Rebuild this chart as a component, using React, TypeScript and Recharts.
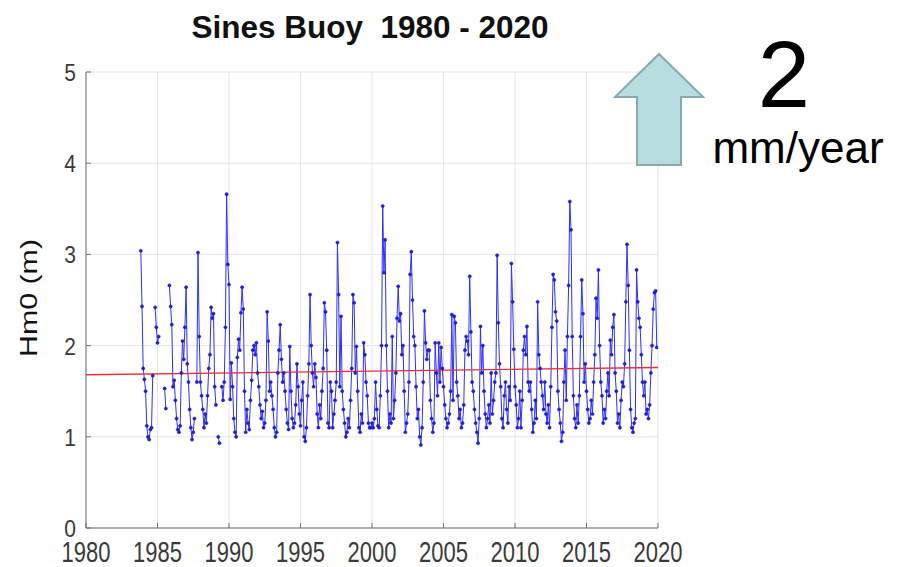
import { LineChart, Line, XAxis, YAxis, CartesianGrid } from "recharts";

// monthly Hm0 (m), first value = Nov 1983, null = no record
const firstYear = 1983;
const firstMonth = 10;
const hm0 = [
  3.04, 2.43,
  1.75, 1.63, 1.5, 1.12, 1.0, 0.97, 1.08, 1.1, 1.67, null, 2.42, 2.2, // 1984
  2.03, 2.1, null, null, null, null, 1.53, 1.31, null, null, 2.66, 2.43, // 1985
  2.23, 1.55, 1.62, 1.4, 1.2, 1.08, 1.05, 1.12, 1.7, 2.05, 1.85, 2.2, // 1986
  2.64, 1.8, 1.6, 1.3, 1.1, 0.97, 1.05, 1.2, null, 1.6, 3.02, 2.1, // 1987
  1.6, 1.45, 1.3, 1.1, 1.25, 1.15, 1.45, 1.75, 1.9, 2.42, 2.3, 2.35, // 1988
  1.55, 1.35, null, 1.0, 0.93, null, 1.55, 1.4, 1.6, 2.2, 3.66, 2.89, // 1989
  2.67, 1.41, 1.81, 1.55, 1.2, 1.05, 1.0, 1.87, 2.07, 1.95, 2.36, 2.64, // 1990
  2.4, 1.5, 1.05, 1.3, 1.15, 1.08, 1.4, 1.62, 1.95, 2.0, 1.9, 2.03, // 1991
  1.7, 1.55, 1.35, 1.2, 1.28, 1.1, 1.15, 1.4, 2.37, 2.05, 1.5, 1.6, // 1992
  1.45, 1.3, 1.1, 1.0, 1.05, 1.7, 1.95, 2.23, 1.85, 1.6, 1.7, 1.5, // 1993
  1.3, 1.15, 1.08, 1.99, 1.5, 1.2, 1.1, 1.15, 1.35, 1.8, 1.55, 1.25, // 1994
  1.12, 1.4, 1.6, 1.0, 0.95, 1.1, 1.45, 1.8, 2.56, 2.0, 1.7, 1.55, // 1995
  1.8, 1.65, 1.25, 1.1, 1.35, 1.2, 1.5, 1.75, 2.47, 2.37, 1.95, 1.15, // 1996
  1.1, 1.6, 1.5, 1.1, 1.25, 1.4, 1.6, 3.13, 2.56, 1.55, 2.32, 1.5, // 1997
  1.3, 1.15, 1.0, 1.05, 1.2, 1.1, 1.4, 1.75, 2.56, 2.47, 1.7, 1.99, // 1998
  1.5, 1.1, 1.05, 1.25, 1.15, 2.03, 1.9, 1.6, 1.45, 1.15, 1.1, 1.1, // 1999
  1.15, 1.1, 1.2, 1.6, 1.3, 1.12, 1.1, 1.45, 2.0, 3.53, 2.8, 3.16, // 2000
  2.0, 1.5, 1.1, 1.25, 1.15, 2.1, 1.2, 1.4, 1.7, 2.3, 2.65, 2.27, // 2001
  2.35, 1.9, 2.0, 1.5, 1.05, 1.15, 1.25, 1.6, 2.78, 3.03, 2.5, 2.1, // 2002
  2.0, 1.55, 1.2, 1.3, 1.0, 0.91, 1.1, 1.6, 2.38, 2.03, 1.85, 1.95, // 2003
  1.95, 1.4, 1.2, 1.05, 1.15, 2.03, 1.7, 1.45, 2.03, 1.6, 1.98, 1.75, // 2004
  1.55, 1.35, 1.2, 1.1, 1.15, 1.25, 1.5, 2.34, 1.4, 2.32, 2.25, 1.6, // 2005
  1.45, 1.2, 1.3, 1.1, 1.15, 1.35, 1.95, 2.1, 2.05, 1.9, 2.76, 2.15, // 2006
  1.6, 1.5, 1.3, 1.15, 1.05, 0.93, 1.2, 2.21, 1.7, 2.0, 1.5, 1.25, // 2007
  1.1, 1.2, 1.35, 1.15, 1.7, 1.25, 1.4, 1.6, 1.7, 2.99, 2.25, 1.8, // 2008
  1.55, 1.2, 1.1, 1.45, 1.6, 1.3, 1.15, 1.55, 1.4, 2.9, 2.48, 1.96, // 2009
  1.55, 1.35, 1.1, 1.2, 1.5, 1.1, 1.4, 1.95, 2.1, 1.9, 2.21, 1.6, // 2010
  1.5, 1.6, 1.3, 1.05, 1.15, 1.4, 1.2, 2.48, 1.9, 1.75, 1.6, 1.45, // 2011
  1.3, 1.6, 1.25, 1.15, 1.35, 1.1, 1.55, 2.2, 2.78, 2.72, 2.37, 2.27, // 2012
  1.5, 1.3, 1.15, 0.95, 1.05, 1.6, 1.95, 1.4, 2.1, 2.66, 3.58, 3.27, // 2013
  2.1, 1.45, 1.2, 1.1, 1.35, 1.15, 1.45, 2.1, 2.72, 2.35, 1.6, 1.8, // 2014
  1.5, 1.3, 1.15, 1.2, 1.4, 1.25, 1.6, 1.9, 2.52, 2.3, 2.83, 2.0, // 2015
  1.6, 1.45, 1.15, 1.3, 1.2, 1.5, 1.7, 1.45, 2.06, 1.9, 2.2, 2.34, // 2016
  1.7, 1.5, 1.15, 1.25, 1.1, 1.4, 1.6, 1.55, 1.8, 2.48, 3.11, 2.66, // 2017
  1.95, 1.3, 1.1, 1.05, 1.15, 1.2, 2.83, 2.48, 2.3, 2.2, 1.9, 1.6, // 2018
  1.45, 1.6, 1.25, 1.3, 1.2, 1.35, 1.7, 2.0, 2.4, 2.58, 2.6, 1.98, // 2019
];

// linear trend, 2 mm/year
const trendYears = [1980, 2020];
const trendHm0 = [1.68, 1.76];

const xTicks = [1980, 1985, 1990, 1995, 2000, 2005, 2010, 2015, 2020];
const yTicks = [0, 1, 2, 3, 4, 5];

const series = hm0.map((v, i) => ({ t: firstYear + (firstMonth + i) / 12, hm0: v }));
const trend = trendYears.map((t, i) => ({ t, trend: trendHm0[i] }));

const FONT = "'Liberation Sans', Arial, Helvetica, sans-serif";
const AXIS = "#6f6f6f";
const LABEL = "#3a3a3a";

// bottom tick: inward mark + vertically stretched label (source image is stretched)
const BottomTick = ({ x, y, payload }: any) => (
  <g transform={`translate(${x},${y})`}>
    <line x1={0} x2={0} y1={0} y2={-5} stroke={AXIS} />
    <text transform="translate(0,34) scale(1,1.3)" textAnchor="middle" fontSize={22} fill={LABEL} fontFamily={FONT}>
      {payload.value}
    </text>
  </g>
);

const LeftTick = ({ x, y, payload }: any) => (
  <g transform={`translate(${x},${y})`}>
    <line x1={0} x2={5} y1={0} y2={0} stroke={AXIS} />
    <text transform="translate(-10,9) scale(1,1.15)" textAnchor="end" fontSize={21} fill={LABEL} fontFamily={FONT}>
      {payload.value}
    </text>
  </g>
);

const TopTick = ({ x, y }: any) => <line x1={x} x2={x} y1={y} y2={y + 5} stroke={AXIS} />;
const RightTick = ({ x, y }: any) => <line x1={x} x2={x - 5} y1={y} y2={y} stroke={AXIS} />;

const YLabel = ({ viewBox }: any) => (
  <text
    transform={`translate(${viewBox.x - 9},${viewBox.y + viewBox.height / 2 - 2}) rotate(-90) scale(1.32,1)`}
    textAnchor="middle"
    fontSize={23}
    fill="#111"
    fontFamily={FONT}
  >
    Hm0 (m)
  </text>
);

export default function App() {
  return (
    <div style={{ position: "absolute", left: 0, top: 0, width: 909, height: 567, background: "#fff", fontFamily: FONT }}>
      <LineChart width={909} height={567} data={series} margin={{ top: 72, right: 251, bottom: 9, left: 46 }}>
        <CartesianGrid stroke="#e4e4e4" strokeWidth={1} />
        <XAxis
          dataKey="t"
          type="number"
          domain={[1980, 2020]}
          ticks={xTicks}
          allowDataOverflow
          height={30}
          tickSize={0}
          tickMargin={0}
          tickLine={false}
          axisLine={{ stroke: AXIS }}
          tick={<BottomTick />}
          interval={0}
        />
        <XAxis
          xAxisId="top"
          orientation="top"
          dataKey="t"
          type="number"
          domain={[1980, 2020]}
          ticks={xTicks}
          height={0}
          tickSize={0}
          tickMargin={0}
          tickLine={false}
          axisLine={{ stroke: AXIS }}
          tick={<TopTick />}
          interval={0}
        />
        <YAxis
          type="number"
          domain={[0, 5]}
          ticks={yTicks}
          width={40}
          tickSize={0}
          tickMargin={0}
          tickLine={false}
          axisLine={{ stroke: AXIS }}
          tick={<LeftTick />}
          interval={0}
          label={<YLabel />}
        />
        <YAxis
          yAxisId="right"
          orientation="right"
          type="number"
          domain={[0, 5]}
          ticks={yTicks}
          width={0}
          tickSize={0}
          tickMargin={0}
          tickLine={false}
          axisLine={{ stroke: AXIS }}
          tick={<RightTick />}
          interval={0}
        />
        <Line
          dataKey="hm0"
          stroke="#2f2fff"
          strokeWidth={1}
          dot={{ r: 1.6, fill: "#1f1fd0", stroke: "#1f1fd0", strokeWidth: 0.5 }}
          connectNulls={false}
          isAnimationActive={false}
        />
        <Line
          data={trend}
          xAxisId="top"
          yAxisId="right"
          dataKey="trend"
          stroke="#ee2b3b"
          strokeWidth={1.4}
          dot={false}
          isAnimationActive={false}
        />
      </LineChart>
      <svg width={909} height={567} style={{ position: "absolute", left: 0, top: 0, pointerEvents: "none" }}>
        <text
          x={370}
          y={38}
          textAnchor="middle"
          fontSize={31.5}
          fontWeight="bold"
          fill="#111"
          fontFamily={FONT}
          style={{ whiteSpace: "pre" }}
        >
          {"Sines Buoy  1980 - 2020"}
        </text>
        <polygon
          points="659,54 703,97 681,97 681,165 637,165 637,97 615,97"
          fill="#b8dde0"
          stroke="#86aaac"
          strokeWidth={2}
        />
        <text x={784} y={107} textAnchor="middle" fontSize={94} fill="#000" fontFamily={FONT}>
          2
        </text>
        <text x={798} y={163} textAnchor="middle" fontSize={44} fill="#000" fontFamily={FONT}>
          mm/year
        </text>
      </svg>
    </div>
  );
}
